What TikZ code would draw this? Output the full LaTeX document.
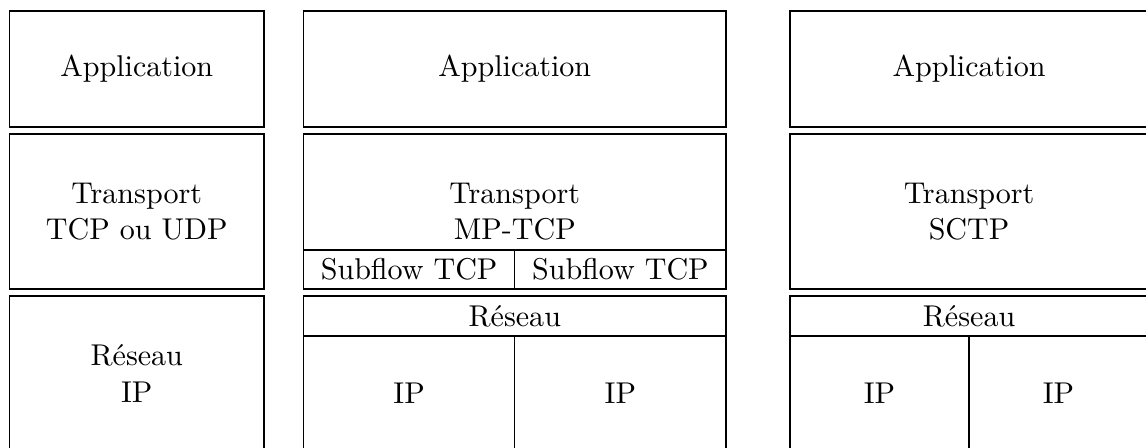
\documentclass[tikz,border=0pt]{standalone}
\usepackage{fontspec}
\usepackage{tikz}

\begin{document}
\begin{tikzpicture}[layer/.style={draw, rectangle, inner sep=0, outer sep=0, align=center}]
\useasboundingbox (0,0) rectangle (13.40,-5.227);
\clip (0,0) rectangle (13.40,-5.227);
% pile classique
\node[layer, minimum width=2.976cm, minimum height=1.356cm] (appA) at (1.599,-0.807) {Application};
\node[layer, minimum width=2.976cm, minimum height=1.812cm] (transA) at (1.599,-2.473) {Transport\\TCP ou UDP};
\node[layer, minimum width=2.976cm, minimum height=1.812cm] (resA) at (1.599,-4.367) {Réseau\\IP};
% pile MP-TCP
\node[layer, minimum width=4.940cm, minimum height=1.356cm] (appB) at (6.019,-0.807) {Application};
\node[layer, minimum width=4.940cm, minimum height=1.812cm] (transB) at (6.019,-2.473) {Transport\\MP-TCP};
\node[layer, minimum width=2.470cm, minimum height=0.456cm] (subB1) at (4.784,-3.151) {Subflow TCP};
\node[layer, minimum width=2.470cm, minimum height=0.456cm] (subB2) at (7.254,-3.151) {Subflow TCP};
\node[layer, minimum width=4.940cm, minimum height=0.468cm] (resB) at (6.019,-3.695) {Réseau};
\node[layer, minimum width=2.470cm, minimum height=1.345cm] (ipB1) at (4.784,-4.601) {IP};
\node[layer, minimum width=2.470cm, minimum height=1.345cm] (ipB2) at (7.254,-4.601) {IP};
% pile SCTP
\node[layer, minimum width=4.186cm, minimum height=1.356cm] (appC) at (11.331,-0.807) {Application};
\node[layer, minimum width=4.186cm, minimum height=1.812cm] (transC) at (11.331,-2.473) {Transport\\SCTP};
\node[layer, minimum width=4.186cm, minimum height=0.468cm] (resC) at (11.331,-3.695) {Réseau};
\node[layer, minimum width=2.093cm, minimum height=1.345cm] (ipC1) at (10.284,-4.601) {IP};
\node[layer, minimum width=2.093cm, minimum height=1.345cm] (ipC2) at (12.377,-4.601) {IP};
\end{tikzpicture}
\end{document}
